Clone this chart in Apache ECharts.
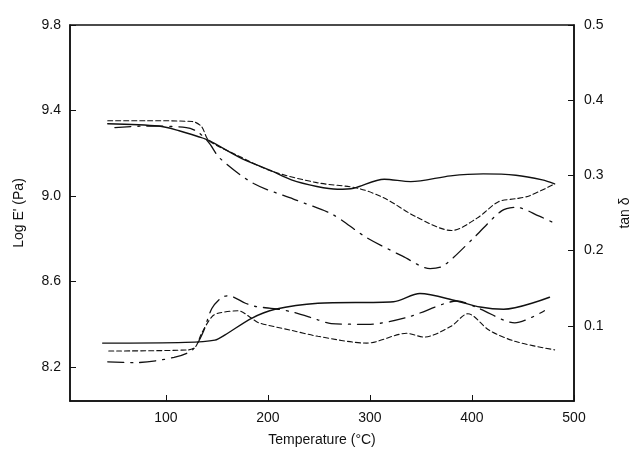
<!DOCTYPE html>
<html>
<head>
<meta charset="utf-8">
<script src="https://cdn.jsdelivr.net/npm/echarts@6/dist/echarts.min.js"></script>
<style>html,body{margin:0;padding:0;background:#fff}#c{width:640px;height:452px}</style>
</head>
<body>
<div id="c"></div>
<script>
// Storage modulus curves (left axis, Log E')
const tSolidE = [43, 93, 113, 132, 142, 174, 203, 223, 248, 268, 284, 314, 340, 379, 411, 443, 469, 481];
const vSolidE = [9.338, 9.327, 9.305, 9.277, 9.26, 9.176, 9.118, 9.075, 9.044, 9.031, 9.036, 9.078, 9.067, 9.094, 9.103, 9.097, 9.075, 9.056];
const tDashE = [43, 80, 126, 135, 142, 170, 203, 248, 288, 314, 346, 380, 405, 426, 443, 456, 481];
const vDashE = [9.352, 9.352, 9.348, 9.324, 9.26, 9.19, 9.117, 9.062, 9.036, 8.99, 8.90, 8.838, 8.896, 8.973, 8.987, 9.0, 9.056];
const tDotE = [50, 80, 120, 131, 142, 153, 186, 225, 263, 296, 332, 359, 372, 401, 429, 443, 466, 481];
const vDotE = [9.32, 9.327, 9.32, 9.30, 9.25, 9.176, 9.058, 8.985, 8.914, 8.807, 8.718, 8.66, 8.673, 8.80, 8.93, 8.947, 8.905, 8.872];
// Loss tangent curves (right axis, tan δ)
const tSolidT = [38, 119, 148, 158, 184, 207, 249, 323, 349, 385, 408, 431, 476];
const vSolidT = [0.077, 0.078, 0.081, 0.088, 0.110, 0.122, 0.130, 0.132, 0.143, 0.133, 0.125, 0.122, 0.138];
const tDashT = [44, 122, 129, 135, 145, 152, 171, 184, 191, 223, 249, 297, 336, 353, 379, 396, 417, 443, 481];
const vDashT = [0.0665, 0.068, 0.072, 0.090, 0.112, 0.117, 0.120, 0.110, 0.104, 0.094, 0.086, 0.077, 0.090, 0.085, 0.099, 0.116, 0.094, 0.079, 0.068];
const tDotT = [43, 69, 108, 126, 136, 145, 154, 161, 178, 187, 210, 225, 249, 262, 298, 336, 372, 385, 407, 442, 471];
const vDotT = [0.052, 0.051, 0.058, 0.068, 0.090, 0.123, 0.137, 0.140, 0.130, 0.126, 0.122, 0.118, 0.108, 0.103, 0.102, 0.111, 0.129, 0.133, 0.123, 0.104, 0.120];
// Tick labels
const xTicks = [100, 200, 300, 400, 500];
const leftTicks = [8.2, 8.6, 9.0, 9.4, 9.8];

const zip = (a, b) => a.map((t, i) => [t, b[i]]);
const ink = '#111';
const font = { fontFamily: 'Liberation Sans, Arial, sans-serif', fontSize: 14, color: ink };
const dotDash = [16, 7, 2, 7];
const shortDash = [5, 3];

function line(name, data, yIdx, type, w) {
  return {
    name, type: 'line', data, yAxisIndex: yIdx, showSymbol: false, symbol: 'none',
    smooth: 0.3, silent: true,
    lineStyle: { color: ink, width: w, type: type, cap: 'round' }
  };
}

const chart = echarts.init(document.getElementById('c'));
chart.setOption({
  animation: false,
  backgroundColor: '#fff',
  grid: { left: 70, right: 62, top: 25, bottom: 51, show: true, borderColor: ink, borderWidth: 1.5, backgroundColor: 'transparent' },
  xAxis: {
    type: 'value', min: 6, max: 500,
    name: 'Temperature (°C)', nameLocation: 'middle', nameGap: 32,
    nameTextStyle: Object.assign({}, font, { fontSize: 14 }),
    axisLine: { show: true, lineStyle: { color: ink, width: 1.5 } },
    axisTick: { inside: true, length: 6, customValues: xTicks, lineStyle: { color: ink } },
    axisLabel: Object.assign({ customValues: xTicks, margin: 10 }, font),
    splitLine: { show: false }
  },
  yAxis: [
    {
      type: 'value', min: 8.04, max: 9.8, position: 'left',
      name: "Log E' (Pa)", nameLocation: 'middle', nameGap: 44, nameRotate: 90,
      nameTextStyle: Object.assign({}, font),
      axisLine: { show: true, lineStyle: { color: ink, width: 1.5 } },
      axisTick: { inside: true, length: 6, customValues: leftTicks, lineStyle: { color: ink } },
      axisLabel: Object.assign({ customValues: leftTicks, margin: 9, formatter: v => v.toFixed(1) }, font),
      splitLine: { show: false }
    },
    {
      type: 'value', min: 0, max: 0.5, interval: 0.1, position: 'right',
      name: 'tan δ', nameLocation: 'middle', nameGap: 44, nameRotate: 90,
      nameTextStyle: Object.assign({}, font),
      axisLine: { show: true, lineStyle: { color: ink, width: 1.5 } },
      axisTick: { inside: true, length: 6, lineStyle: { color: ink } },
      axisLabel: Object.assign({ showMinLabel: false, margin: 10, formatter: v => v.toFixed(1) }, font),
      splitLine: { show: false }
    }
  ],
  series: [
    line('E solid', zip(tSolidE, vSolidE), 0, 'solid', 1.4),
    line('E dashed', zip(tDashE, vDashE), 0, shortDash, 1.1),
    line('E dash-dot', zip(tDotE, vDotE), 0, dotDash, 1.3),
    line('tan solid', zip(tSolidT, vSolidT), 1, 'solid', 1.4),
    line('tan dashed', zip(tDashT, vDashT), 1, shortDash, 1.1),
    line('tan dash-dot', zip(tDotT, vDotT), 1, dotDash, 1.3)
  ]
});
</script>
</body>
</html>
